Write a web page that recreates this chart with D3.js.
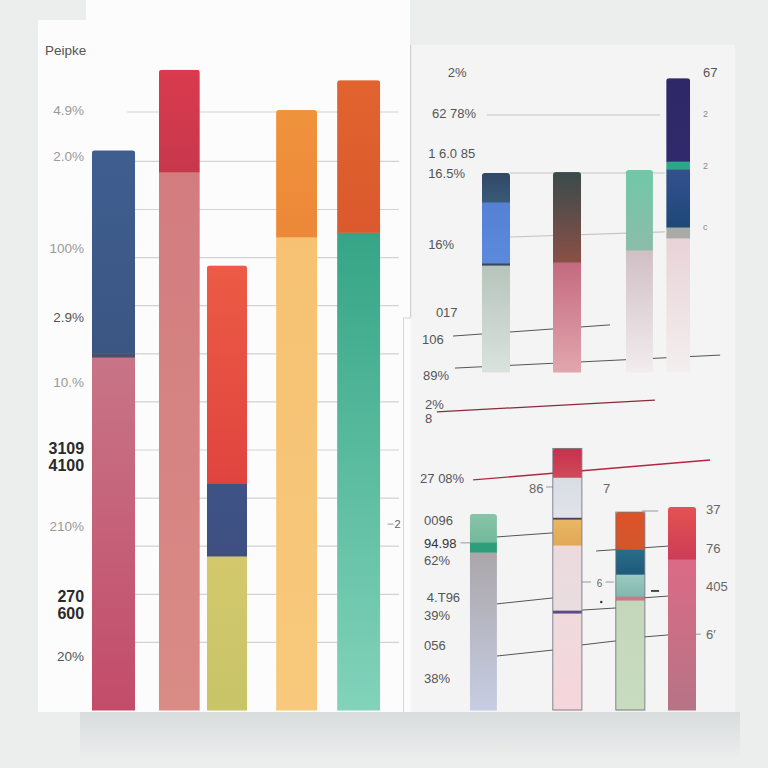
<!DOCTYPE html>
<html><head><meta charset="utf-8">
<script src="https://cdn.jsdelivr.net/npm/d3@7/dist/d3.min.js"></script>
<style>html,body{margin:0;padding:0;background:#eceeee;}svg{display:block;font-family:"Liberation Sans",Arial,sans-serif;}</style>
</head><body>
<script>
// ---------- DATA ----------
// Left panel: stacked segments (bottom -> top), values in %
const leftCategories = ["c1","c2","c3","c4","c5"];
const leftValues = [
  [54.3, 0.6, 31.2],
  [82.8, 15.7],
  [23.7, 11.2, 33.5],
  [72.8, 19.5],
  [73.5, 23.4]
];
const leftTickLabels = ["Peipke","4.9%","2.0%","100%","2.9%","10.%","3109","4100","210%","270","600","20%"];
const leftTickValues = [101.5, 92.3, 85.2, 71.1, 60.5, 50.5, 40.2, 37.5, 28.3, 17.4, 14.8, 8.3];
const leftTickDark   = [1,0,0,0,1,0,2,2,0,2,2,1];
const leftGridValues = [92, 84.4, 77, 69.6, 62.2, 54.8, 47.4, 40, 32.6, 25.2, 17.8, 10.4];

// Top-right panel
const trCategories = ["a","b","c","d"];
const trValues = [
  [35.4, 0.7, 20.2, 9.6],
  [36.4, 29.8],
  [40.4, 26.5],
  [44.4, 3.6, 19.2, 2.6, 27.5]
];
const trTickLabels = ["2%","62 78%","1 6.0 85","16.5%","16%","017","106","89%"];
const trTickValues = [99.3, 85.8, 72.5, 65.9, 42.4, 19.9, 10.9, -1.0];
const trRightLabels = ["67","2","2","c"];
const trRightValues = [99.3, 85.8, 68.5, 48.3];

// Bottom-right panel
const brCategories = ["e","f","g","h"];
const brValues = [
  [58.5, 3.7, 10.4],
  [35.9, 1.1, 24.1, 9.6, 0.7, 14.8, 10.7],
  [40.7, 1.5, 8.1, 9.3, 13.7],
  [55.9, 19.3]
];
const brTickLabels = ["2%","8","27 08%","0096","94.98","62%","4.T96","39%","056","38%"];
const brTickValues = [113.3, 108.1, 85.9, 70.4, 61.9, 55.6, 41.9, 35.2, 24.1, 11.9];
const brRightLabels = ["37","76","405","6\u2032"];
const brRightValues = [74.4, 60.0, 45.9, 28.1];
const brInnerLabels = ["86","7","6"];
const brInnerValues = [82.2, 82.2, 47.4];

// ---------- LAYOUT / STYLE (not data) ----------
const W = 768, H = 768;
const leftSlots = [20.3, 38.0, 50.8, 69.5, 86.2], leftWidth = [11.6, 11.0, 10.8, 11.0, 11.6];
const trSlots = [26.0, 48.0, 70.4, 82.4], trWidth = [8.7, 8.7, 8.4, 7.4];
const brSlots = [22.1, 48.1, 67.6, 83.6], brWidth = [8.4, 9.0, 9.0, 8.7];

const leftColors = [
  [["#c87587","#c24c6a"],["#4b4f6c","#4b4f6c"],["#3f5e90","#3b5682"]],
  [["#d27c80","#d98b86"],["#da3a4d","#c7384d"]],
  [["#d3c96c","#c8c468"],["#3f5387","#3e4f80"],["#ec5b45","#e0443f"]],
  [["#f6c172","#f8c97c"],["#f0933d","#ec8838"]],
  [["#35a585","#82d3ba"],["#e2632f","#db592d"]]
];
const trColors = [
  [["#b6c5bc","#dae2de"],["#3d4656","#3d4656"],["#5680d3","#5b8add"],["#2f4866","#3a5a78"]],
  [["#c46a80","#e2a6ae"],["#3a4a4c","#8a5046"]],
  [["#d0c0c5","#f1ecee"],["#70c8a8","#8cbcaa"]],
  [["#e8d3d7","#f3efef"],["#a9aba6","#a9aba6"],["#34508e","#1e4878"],["#2fa58a","#2fa58a"],["#2e2868","#302a6c"]]
];
const brColors = [
  [["#aaa6aa","#c7cde2"],["#2e9e7a","#2e9e7a"],["#88c4a8","#72b99a"]],
  [["#efdadd","#f5d6db"],["#5c4c82","#5c4c82"],["#ecdadd","#e8dde0"],["#eab862","#e0a858"],["#4a3a6a","#4a3a6a"],["#d8dce4","#e0e3e9"],["#c8304c","#d04a5a"]],
  [["#c4d7ba","#c8dcc0"],["#c87a88","#c87a88"],["#9ccabe","#80b8b0"],["#2a6c8a","#1e5a7a"],["#dc5228","#d4562c"]],
  [["#dc6a86","#b67486"],["#e45250","#cc3c58"]]
];

const svg = d3.select("body").append("svg").attr("width", W).attr("height", H);
const defs = svg.append("defs");
let gid = 0;
function grad(c){
  const id = "g" + (gid++);
  const g = defs.append("linearGradient").attr("id", id).attr("x1",0).attr("y1",0).attr("x2",0).attr("y2",1);
  g.append("stop").attr("offset","0%").attr("stop-color", c[0]);
  g.append("stop").attr("offset","100%").attr("stop-color", c[1]);
  return "url(#" + id + ")";
}
const sh = defs.append("linearGradient").attr("id","shadow").attr("x1",0).attr("y1",0).attr("x2",0).attr("y2",1);
sh.append("stop").attr("offset","0%").attr("stop-color","#d9dcdc");
sh.append("stop").attr("offset","100%").attr("stop-color","#eceeee");

// ---------- BACKGROUND PANELS ----------
svg.append("rect").attr("x",0).attr("y",0).attr("width",W).attr("height",H).attr("fill","#eceeee");
svg.append("rect").attr("x",80).attr("y",712).attr("width",660).attr("height",48).attr("fill","url(#shadow)");
svg.append("rect").attr("x",412).attr("y",45).attr("width",323).attr("height",667).attr("fill","#f4f4f4");
svg.append("rect").attr("x",403).attr("y",318).attr("width",9).attr("height",394).attr("fill","#f7f7f7");
svg.append("rect").attr("x",38).attr("y",20).attr("width",372).attr("height",692).attr("fill","#fcfcfc");
svg.append("rect").attr("x",86).attr("y",0).attr("width",324).attr("height",30).attr("fill","#fcfcfc");
svg.append("line").attr("x1",410.5).attr("x2",410.5).attr("y1",45).attr("y2",318).attr("stroke","#cfcfcf");
svg.append("line").attr("x1",403.5).attr("x2",403.5).attr("y1",318).attr("y2",712).attr("stroke","#d6d6d6");
svg.append("line").attr("x1",403).attr("x2",411).attr("y1",318).attr("y2",318).attr("stroke","#d6d6d6");

// ---------- SCALES ----------
const xL = d3.scaleLinear().domain([0,100]).range([38,410]);
const yL = d3.scaleLinear().domain([0,100]).range([710,60]);
const xR = d3.scaleLinear().domain([0,100]).range([412,735]);
const yTR = d3.scaleLinear().domain([0,100]).range([372,70]);
const yBR = d3.scaleLinear().domain([0,100]).range([710,440]);

// ---------- DRAW HELPERS ----------
function drawBars(g, values, colors, slots, widths, xs, ys, stroke){
  values.forEach((segs, i) => {
    const cx = xs(slots[i]);
    const w = xs(widths[i]) - xs(0);
    const total = d3.sum(segs);
    const cid = "clip" + (gid++);
    defs.append("clipPath").attr("id", cid).append("rect")
      .attr("x", cx - w/2).attr("y", ys(total)).attr("width", w).attr("height", ys(0) - ys(total) + 4).attr("rx", 3);
    const bg = g.append("g").attr("clip-path", "url(#" + cid + ")");
    let acc = 0;
    segs.forEach((v, j) => {
      bg.append("rect").attr("x", cx - w/2).attr("width", w)
        .attr("y", ys(acc + v)).attr("height", ys(acc) - ys(acc + v) + 0.5)
        .attr("fill", grad(colors[i][j]));
      acc += v;
    });
    if (stroke) {
      g.append("rect").attr("x", cx - w/2).attr("y", ys(total)).attr("width", w).attr("height", ys(0) - ys(total))
        .attr("rx", 2).attr("fill", "none").attr("stroke", stroke).attr("stroke-width", 1);
    }
  });
}
function drawLines(g, lines, xs, ys, color, width){
  g.selectAll(null).data(lines).enter().append("line")
    .attr("x1", d => xs(d[0])).attr("y1", d => ys(d[1]))
    .attr("x2", d => xs(d[2])).attr("y2", d => ys(d[3]))
    .attr("stroke", color).attr("stroke-width", width || 1);
}

// ---------- LEFT PANEL ----------
const gL = svg.append("g");
gL.selectAll(null).data(leftGridValues).enter().append("line")
  .attr("x1", xL(24)).attr("x2", xL(97)).attr("y1", d => yL(d)).attr("y2", d => yL(d))
  .attr("stroke", "#d2d2d2").attr("stroke-width", 1.2);
drawBars(gL, leftValues, leftColors, leftSlots, leftWidth, xL, yL, null);
leftTickLabels.forEach((t, i) => {
  const first = i === 0;
  gL.append("text")
    .attr("x", first ? xL(1.9) : xL(12.4))
    .attr("y", yL(leftTickValues[i]) + 5)
    .attr("text-anchor", first ? "start" : "end")
    .attr("font-size", leftTickDark[i] === 2 ? 16 : 13.5)
    .attr("font-weight", leftTickDark[i] === 2 ? "bold" : "normal")
    .attr("fill", leftTickDark[i] === 2 ? "#2a2a2a" : (leftTickDark[i] === 1 ? "#555" : "#9a9a9a"))
    .text(t);
});
gL.append("line").attr("x1", xL(94)).attr("x2", xL(95.6)).attr("y1", yL(28.6)).attr("y2", yL(28.6)).attr("stroke","#999");
gL.append("text").attr("x", xL(95.8)).attr("y", yL(28.6)+4).attr("font-size", 11).attr("fill","#666").text("2");

// ---------- TOP-RIGHT PANEL ----------
const gT = svg.append("g");
drawLines(gT, [[23.2,85.1,76.8,85.1],[30.3,65.9,78.3,65.9],[30.3,44.7,78.3,46.4]], xR, yTR, "#c4c4c4", 1.2);
drawLines(gT, [[12.7,11.9,61.3,15.6],[13.3,1.3,95.4,5.6]], xR, yTR, "#555", 1);
drawBars(gT, trValues, trColors, trSlots, trWidth, xR, yTR, null);
trTickLabels.forEach((t, i) => {
  const xs = [11.1, 6.2, 5.0, 5.0, 5.0, 7.4, 3.1, 3.4];
  gT.append("text").attr("x", xR(xs[i])).attr("y", yTR(trTickValues[i]) + 5)
    .attr("font-size", 13).attr("fill", "#555").text(t);
});
trRightLabels.forEach((t, i) => {
  gT.append("text").attr("x", xR(90.1)).attr("y", yTR(trRightValues[i]) + (i === 0 ? 5 : 4))
    .attr("font-size", i === 0 ? 13 : 9).attr("fill", i === 0 ? "#555" : "#888").text(t);
});

// ---------- BOTTOM-RIGHT PANEL ----------
const gB = svg.append("g");
drawLines(gB, [[7.7,110.4,75.2,114.8]], xR, yBR, "#8a2a3a", 1.3);
drawLines(gB, [[18.9,85.2,92.3,92.6]], xR, yBR, "#b0283f", 1.3);
drawLines(gB, [
  [26.3,64.1,43.6,65.6],[26.3,39.3,43.6,41.5],[26.3,20.0,43.6,22.2],
  [52.6,37.0,63.2,37.8],[52.6,24.1,63.2,25.6],
  [57.0,58.9,79.3,60.7],
  [71.2,41.5,79.3,42.2],[71.2,27.0,79.3,27.8]
], xR, yBR, "#555", 1);
drawLines(gB, [[15.0,61.9,18.0,61.9],[41.5,82.6,43.6,82.6],[52.6,47.4,55.4,47.4],[59.9,47.4,62.5,47.4],
  [71.2,73.7,76.2,73.7],[86.0,28.1,89.4,28.1]], xR, yBR, "#999", 1);
drawLines(gB, [[74.0,44.1,76.5,44.1]], xR, yBR, "#222", 1.6);
drawBars(gB, brValues, brColors, brSlots, brWidth, xR, yBR, null);
gB.selectAll(null).data([1,2]).enter().append("rect")
  .attr("x", i => xR(brSlots[i]) - (xR(brWidth[i]) - xR(0))/2)
  .attr("y", i => yBR(d3.sum(brValues[i])))
  .attr("width", i => xR(brWidth[i]) - xR(0))
  .attr("height", i => yBR(0) - yBR(d3.sum(brValues[i])))
  .attr("fill","none").attr("stroke","#6a6a78").attr("stroke-width",0.8);
brTickLabels.forEach((t, i) => {
  const xs = [4.0, 4.0, 2.5, 3.7, 3.7, 3.7, 4.6, 3.7, 3.7, 3.7];
  gB.append("text").attr("x", xR(xs[i])).attr("y", yBR(brTickValues[i]) + 5)
    .attr("font-size", 13).attr("fill", i === 4 ? "#333" : "#555").text(t);
});
brRightLabels.forEach((t, i) => {
  gB.append("text").attr("x", xR(91.0)).attr("y", yBR(brRightValues[i]) + 5)
    .attr("font-size", 13).attr("fill", "#666").text(t);
});
brInnerLabels.forEach((t, i) => {
  const xs = [36.2, 59.1, 57.2];
  gB.append("text").attr("x", xR(xs[i])).attr("y", yBR(brInnerValues[i]) + 5)
    .attr("font-size", i === 2 ? 10 : 13).attr("fill", "#666").text(t);
});
gB.append("circle").attr("cx", xR(58.6)).attr("cy", yBR(40.0)).attr("r", 1.2).attr("fill", "#333");
</script>
</body></html>
